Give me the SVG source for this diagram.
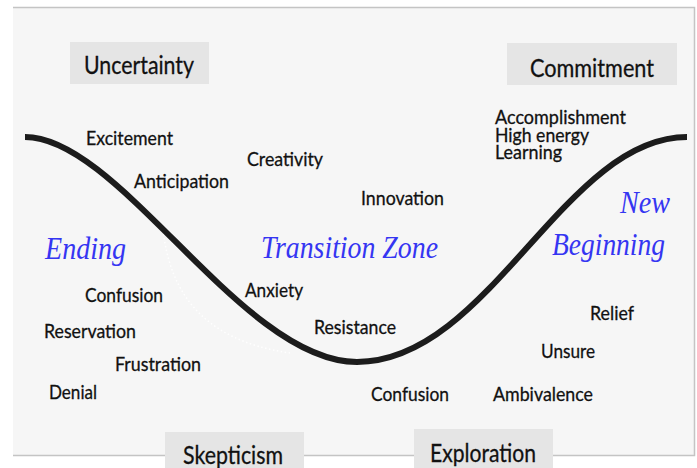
<svg xmlns="http://www.w3.org/2000/svg" width="697" height="468" viewBox="0 0 697 468">
<style>
.lbl{font-family:Lato,"Liberation Sans",sans-serif;font-size:20px;fill:#111;stroke:#111;stroke-width:0.3}
.sm{font-size:18.5px}
.box{fill:#e5e5e5}
.boxt{font-family:Lato,"Liberation Sans",sans-serif;font-size:25px;fill:#111;stroke:#111;stroke-width:0.3}
.phase{font-family:"Liberation Serif",serif;font-style:italic;font-size:31px;fill:#3535f2}
</style>
<rect x="0" y="0" width="697" height="468" fill="#ffffff"/>
<rect x="13" y="7" width="681" height="448" fill="#f6f6f6"/>
<path d="M13,7.5 H694.5 V455.5 H13" fill="none" stroke="#c4c4c4" stroke-width="1.5"/>
<g id="curve">
<path d="M163,230 C170,290 200,340 290,353" fill="none" stroke="#ffffff" stroke-width="1.5" stroke-dasharray="1.5 2.5" opacity="0.9"/>
<path d="M25,137 C120,137 242,362 357,362 C489,362 564,137 687,137" fill="none" stroke="#1c1c1c" stroke-width="6"/>
</g>
<g id="uncertainty"><rect class="box" x="70" y="42" width="139" height="42"/><text class="boxt" x="84" y="74" textLength="110" lengthAdjust="spacingAndGlyphs">Uncertainty</text></g>
<g id="commitment"><rect class="box" x="507" y="43" width="170" height="42"/><text class="boxt" x="530" y="77" textLength="124" lengthAdjust="spacingAndGlyphs">Commitment</text></g>
<g id="skepticism"><rect class="box" x="165" y="432" width="139" height="40"/><text class="boxt" x="183" y="464" textLength="100" lengthAdjust="spacingAndGlyphs">Skepticism</text></g>
<g id="exploration"><rect class="box" x="414" y="429" width="139" height="43"/><text class="boxt" x="430" y="462" textLength="106" lengthAdjust="spacingAndGlyphs">Exploration</text></g>
<g id="ending"><text class="phase" x="45" y="259" textLength="81" lengthAdjust="spacingAndGlyphs">Ending</text></g>
<g id="transition-zone"><text class="phase" x="261" y="258" textLength="177" lengthAdjust="spacingAndGlyphs">Transition Zone</text></g>
<g id="new-beginning"><text class="phase" x="620" y="213" textLength="50" lengthAdjust="spacingAndGlyphs">New</text><text class="phase" x="552" y="255" textLength="113" lengthAdjust="spacingAndGlyphs">Beginning</text></g>
<g id="excitement"><text class="lbl" x="86" y="145" textLength="87" lengthAdjust="spacingAndGlyphs">Excitement</text></g>
<g id="creativity"><text class="lbl" x="247" y="166" textLength="76" lengthAdjust="spacingAndGlyphs">Creativity</text></g>
<g id="anticipation"><text class="lbl" x="134" y="188" textLength="95" lengthAdjust="spacingAndGlyphs">Anticipation</text></g>
<g id="innovation"><text class="lbl" x="361" y="205" textLength="83" lengthAdjust="spacingAndGlyphs">Innovation</text></g>
<g id="accomplishment"><text class="lbl sm" x="495" y="124" textLength="131" lengthAdjust="spacingAndGlyphs">Accomplishment</text></g>
<g id="high-energy"><text class="lbl sm" x="495" y="142" textLength="94" lengthAdjust="spacingAndGlyphs">High energy</text></g>
<g id="learning"><text class="lbl sm" x="495" y="159" textLength="67" lengthAdjust="spacingAndGlyphs">Learning</text></g>
<g id="confusion-left"><text class="lbl" x="85" y="302" textLength="78" lengthAdjust="spacingAndGlyphs">Confusion</text></g>
<g id="reservation"><text class="lbl" x="44" y="338" textLength="92" lengthAdjust="spacingAndGlyphs">Reservation</text></g>
<g id="frustration"><text class="lbl" x="115" y="371" textLength="86" lengthAdjust="spacingAndGlyphs">Frustration</text></g>
<g id="denial"><text class="lbl" x="49" y="399" textLength="48" lengthAdjust="spacingAndGlyphs">Denial</text></g>
<g id="anxiety"><text class="lbl" x="245" y="297" textLength="58" lengthAdjust="spacingAndGlyphs">Anxiety</text></g>
<g id="resistance"><text class="lbl" x="314" y="334" textLength="82" lengthAdjust="spacingAndGlyphs">Resistance</text></g>
<g id="relief"><text class="lbl" x="590" y="320" textLength="44" lengthAdjust="spacingAndGlyphs">Relief</text></g>
<g id="unsure"><text class="lbl" x="541" y="358" textLength="54" lengthAdjust="spacingAndGlyphs">Unsure</text></g>
<g id="confusion-right"><text class="lbl" x="371" y="401" textLength="78" lengthAdjust="spacingAndGlyphs">Confusion</text></g>
<g id="ambivalence"><text class="lbl" x="493" y="401" textLength="100" lengthAdjust="spacingAndGlyphs">Ambivalence</text></g>
</svg>
